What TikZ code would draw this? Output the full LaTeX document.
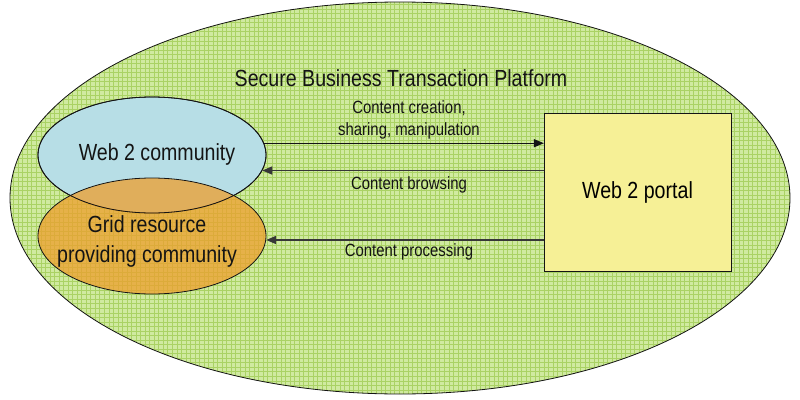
\documentclass[tikz,border=0pt]{standalone}
\usepackage{fontspec}
\setmainfont[FakeStretch=0.84]{Liberation Sans}
\usetikzlibrary{arrows.meta,positioning,shapes.geometric}
\definecolor{leaf}{RGB}{208,234,160}
\definecolor{leafline}{RGB}{170,210,100}
\definecolor{ice}{RGB}{183,222,230}
\definecolor{tangerine}{RGB}{238,158,45}
\definecolor{lemon}{RGB}{246,240,150}
\definecolor{ink}{RGB}{20,20,20}
\tikzset{
  >={Triangle[length=7.5pt,width=6pt]},
  community/.style={ellipse,draw=ink,fill=#1,minimum width=171pt,minimum height=87pt,
    inner sep=0pt,line width=0.6pt},
  community/.default=ice,
  name text/.style={align=center,text=ink,font=\fontsize{17.5}{22.5}\selectfont},
  portal box/.style={draw=ink,fill=lemon,minimum width=140pt,minimum height=118.5pt,
    inner sep=0pt,font=\fontsize{17.5}{22.5}\selectfont},
  flow/.style={->,draw=#1,line width=0.8pt},
  flow/.default=ink,
  back flow/.style={<-,draw=ink!85,line width=1.2pt},
  tag/.style={font=\fontsize{13.3}{16.5}\selectfont,align=center,text=ink},
}
\begin{document}
\begin{tikzpicture}[x=0.75pt,y=-0.75pt]
    \useasboundingbox (0,0) rectangle (800,400);
    % platform ellipse with grid
    \node[ellipse,minimum width=585pt,minimum height=294pt,inner sep=0pt] (platform) at (400,198) {};
    \fill[leaf] (platform.center) ellipse [x radius=292.5pt,y radius=147pt];
    \begin{scope}
      \clip (platform.center) ellipse [x radius=292.5pt,y radius=147pt];
      \draw[leafline,line width=0.4pt,step=3.4pt] (platform.west |- platform.north) grid (platform.east |- platform.south);
    \end{scope}
    \draw[ink,line width=0.6pt] (platform.center) ellipse [x radius=292.5pt,y radius=147pt];
    \node[name text] (head) at (401,78) {Secure Business Transaction Platform};
    % communities
    \node[community] (web) at (152,155) {};
    \node[community=tangerine,fill opacity=0.75] (grid) at (152,236) {};
    \node[community,fill=none] at (web) {};
    \node[name text] (webtext) at (157,154) {Web 2 community};
    \node[name text] (gridtext) at (147,241) {Grid resource\\providing community};
    % portal
    \node[portal box] (portal) at (637.5,192) {Web 2 portal};
    % exchanges
    \draw[flow] (web.6) -- (web.6 -| portal.west);
    \draw[back flow] (web.-8) -- (web.-8 -| portal.west);
    \draw[back flow] (grid.-2) -- (grid.-2 -| portal.west);
    \node[tag] (create) at (409,120) {Content creation,\\sharing, manipulation};
    \node[tag] (browse) at (409,185) {Content browsing};
    \node[tag] (process) at (409,252) {Content processing};
  \end{tikzpicture}
\end{document}
